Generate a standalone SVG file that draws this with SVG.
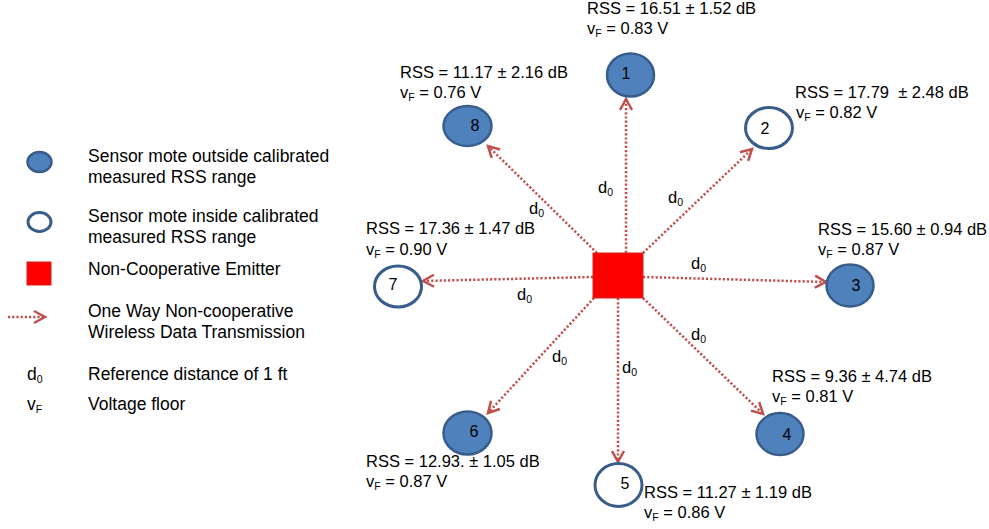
<svg xmlns="http://www.w3.org/2000/svg" width="989" height="529" viewBox="0 0 989 529">
  <defs>
    <marker id="chev" markerUnits="userSpaceOnUse" markerWidth="16" markerHeight="16" refX="12" refY="7" orient="auto" viewBox="0 0 16 14">
      <path d="M1,1 L12,7 L1,13" fill="none" stroke="#c0504d" stroke-width="2.5"/>
    </marker>
  </defs>
  <style>
    text { font-family: "Liberation Sans", Arial, sans-serif; fill: #000; }
    .lbl { font-size: 16.5px; }
    .leg { font-size: 17.5px; }
    .num { font-size: 16px; text-anchor: middle; }
    .sub { font-size: 10.5px; }
    .full { fill: #4f81bd; stroke: #385d8a; stroke-width: 2.5; }
    .hollow { fill: #ffffff; stroke: #385d8a; stroke-width: 3; }
    .emit { fill: #ff0000; stroke: #d42020; stroke-width: 1; }
    .link { fill: none; stroke: #c0504d; stroke-width: 2.5; stroke-dasharray: 2.2 2; marker-end: url(#chev); }
  </style>
  <rect width="989" height="529" fill="#ffffff"/>

  <!-- legend -->
  <g id="legend">
    <ellipse class="full" cx="39.5" cy="162" rx="12" ry="10"/>
    <text class="leg" x="88" y="162">Sensor mote outside calibrated</text>
    <text class="leg" x="88" y="183">measured RSS range</text>
    <ellipse class="hollow" cx="39.5" cy="222" rx="11.5" ry="9.5"/>
    <text class="leg" x="88" y="222">Sensor mote inside calibrated</text>
    <text class="leg" x="88" y="243">measured RSS range</text>
    <rect class="emit" x="27" y="262" width="24" height="23" stroke="#c0504d" stroke-width="1.5"/>
    <text class="leg" x="88" y="275">Non-Cooperative Emitter</text>
    <line class="link" x1="8" y1="317" x2="45" y2="317"/>
    <text class="leg" x="88" y="317">One Way Non-cooperative</text>
    <text class="leg" x="88" y="338">Wireless Data Transmission</text>
    <text class="leg" x="27" y="380">d<tspan class="sub" dy="3">0</tspan></text>
    <text class="leg" x="88" y="380">Reference distance of 1 ft</text>
    <text class="leg" x="27" y="410">v<tspan class="sub" dy="3">F</tspan></text>
    <text class="leg" x="88" y="410">Voltage floor</text>
  </g>

  <!-- transmissions from the emitter -->
  <g id="connectors">
    <line class="link" x1="626" y1="253" x2="626" y2="99"/>
    <line class="link" x1="597" y1="253" x2="488" y2="146"/>
    <line class="link" x1="643" y1="253" x2="752" y2="149"/>
    <line class="link" x1="643" y1="277" x2="826" y2="282"/>
    <line class="link" x1="593" y1="277" x2="423" y2="281"/>
    <line class="link" x1="594" y1="298" x2="488" y2="413"/>
    <line class="link" x1="618" y1="298" x2="618" y2="462"/>
    <line class="link" x1="643" y1="298" x2="763" y2="414"/>
    <text class="lbl" x="598" y="193">d<tspan class="sub" dy="3">0</tspan></text>
    <text class="lbl" x="668" y="203">d<tspan class="sub" dy="3">0</tspan></text>
    <text class="lbl" x="529" y="214">d<tspan class="sub" dy="3">0</tspan></text>
    <text class="lbl" x="691" y="269">d<tspan class="sub" dy="3">0</tspan></text>
    <text class="lbl" x="517" y="300">d<tspan class="sub" dy="3">0</tspan></text>
    <text class="lbl" x="691" y="340">d<tspan class="sub" dy="3">0</tspan></text>
    <text class="lbl" x="552" y="362">d<tspan class="sub" dy="3">0</tspan></text>
    <text class="lbl" x="622" y="373">d<tspan class="sub" dy="3">0</tspan></text>
  </g>

  <g id="emitter">
    <rect class="emit" x="593" y="253" width="50" height="45"/>
  </g>

  <g id="node1">
    <ellipse class="full" cx="630.5" cy="75" rx="23.5" ry="21.5"/>
    <text class="num" x="626" y="79">1</text>
    <text class="lbl" x="587" y="14">RSS = 16.51 ± 1.52 dB</text>
    <text class="lbl" x="587" y="34">v<tspan class="sub" dy="3">F</tspan><tspan dy="-3"> = 0.83 V</tspan></text>
  </g>

  <g id="node2">
    <ellipse class="hollow" cx="769" cy="128" rx="23.5" ry="20.5"/>
    <text class="num" x="765" y="134">2</text>
    <text class="lbl" x="795" y="98">RSS = 17.79 &#160;± 2.48 dB</text>
    <text class="lbl" x="796" y="118">v<tspan class="sub" dy="3">F</tspan><tspan dy="-3"> = 0.82 V</tspan></text>
  </g>

  <g id="node3">
    <ellipse class="full" cx="850" cy="285.5" rx="23.5" ry="21"/>
    <text class="num" x="856" y="291">3</text>
    <text class="lbl" x="818" y="235">RSS = 15.60 ± 0.94 dB</text>
    <text class="lbl" x="818" y="255">v<tspan class="sub" dy="3">F</tspan><tspan dy="-3"> = 0.87 V</tspan></text>
  </g>

  <g id="node4">
    <ellipse class="full" cx="780" cy="434" rx="23.5" ry="21"/>
    <text class="num" x="787" y="440">4</text>
    <text class="lbl" x="772" y="382">RSS = 9.36 ± 4.74 dB</text>
    <text class="lbl" x="772" y="402">v<tspan class="sub" dy="3">F</tspan><tspan dy="-3"> = 0.81 V</tspan></text>
  </g>

  <g id="node5">
    <ellipse class="hollow" cx="618.5" cy="485" rx="23.5" ry="21.5"/>
    <text class="num" x="625" y="489">5</text>
    <text class="lbl" x="644" y="498">RSS = 11.27 ± 1.19 dB</text>
    <text class="lbl" x="644" y="518">v<tspan class="sub" dy="3">F</tspan><tspan dy="-3"> = 0.86 V</tspan></text>
  </g>

  <g id="node6">
    <ellipse class="full" cx="467.5" cy="433" rx="24" ry="21.5"/>
    <text class="num" x="474" y="437">6</text>
    <text class="lbl" x="366" y="467">RSS = 12.93. ± 1.05 dB</text>
    <text class="lbl" x="366" y="487">v<tspan class="sub" dy="3">F</tspan><tspan dy="-3"> = 0.87 V</tspan></text>
  </g>

  <g id="node7">
    <ellipse class="hollow" cx="398" cy="286.5" rx="23.5" ry="20.5"/>
    <text class="num" x="393" y="290">7</text>
    <text class="lbl" x="366" y="234">RSS = 17.36 ± 1.47 dB</text>
    <text class="lbl" x="366" y="255">v<tspan class="sub" dy="3">F</tspan><tspan dy="-3"> = 0.90 V</tspan></text>
  </g>

  <g id="node8">
    <ellipse class="full" cx="467.5" cy="126" rx="24" ry="20"/>
    <text class="num" x="475" y="131">8</text>
    <text class="lbl" x="400" y="78">RSS = 11.17 ± 2.16 dB</text>
    <text class="lbl" x="400" y="98">v<tspan class="sub" dy="3">F</tspan><tspan dy="-3"> = 0.76 V</tspan></text>
  </g>
</svg>
